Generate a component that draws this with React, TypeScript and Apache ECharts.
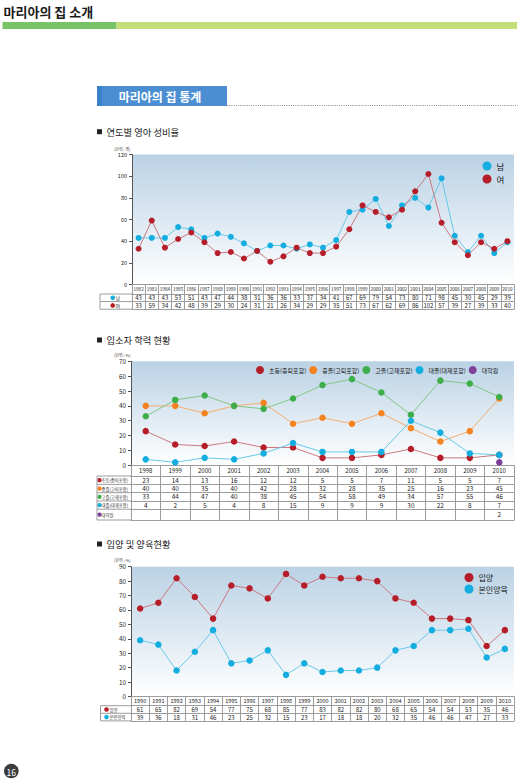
import React, { useEffect, useRef } from 'react';
import * as echarts from 'echarts';

// ---------- DATA ----------
const sexYears = ['1982','1983','1984','1985','1986','1987','1988','1989','1990','1991','1992','1993','1994','1995','1996','1997','1998','1999','2000','2001','2002','2003','2004','2005','2006','2007','2008','2009','2010'];
const boys = [43,43,43,53,51,43,47,44,38,31,36,36,33,37,34,41,67,69,79,54,73,80,71,98,45,30,45,29,39];
const girls = [33,59,34,42,48,39,29,30,24,31,21,26,34,29,29,35,51,73,67,62,69,86,102,57,39,27,39,33,40];

const eduYears = ['1998','1999','2000','2001','2002','2003','2004','2005','2006','2007','2008','2009','2010'];
const elementary = [23,14,13,16,12,12,5,5,7,11,5,5,7];
const middleSchool = [40,40,35,40,42,28,32,28,35,25,16,23,45];
const highSchool = [33,44,47,40,38,45,54,58,49,34,57,55,46];
const university = [4,2,5,4,8,15,9,9,9,30,22,8,7];
const graduate = [null,null,null,null,null,null,null,null,null,null,null,null,2];

const adoptYears = ['1990','1991','1992','1993','1994','1995','1996','1997','1998','1999','2000','2001','2002','2003','2004','2005','2006','2007','2008','2009','2010'];
const adopted = [61,65,82,69,54,77,75,68,85,77,83,82,82,80,68,65,54,54,53,35,46];
const selfRaised = [39,36,18,31,46,23,25,32,15,23,17,18,18,20,32,35,46,46,47,27,33];

const FONT = '"Noto Sans CJK KR", "Noto Sans", sans-serif';
const LINE = '#9c9c9c';
const RED = '#b51d28', RED_L = '#cc7880';
const BLUE = '#13aedf', BLUE_L = '#68c9e8';
const ORANGE = '#f5821f', ORANGE_L = '#f5ad6e';
const GREEN = '#3dae4a', GREEN_L = '#80c684';
const PURPLE = '#7d3f98';

type Row = { label: string; color: string; data: (number | null)[]; h: number };

function baseCat(grid: number, years: string[], offset: number) {
  return {
    type: 'category', gridIndex: grid, position: 'bottom', offset, data: years, boundaryGap: true,
    axisLine: { show: true, onZero: false, lineStyle: { color: LINE, width: 1 } },
    splitLine: { show: false },
    axisPointer: { show: false },
  } as any;
}

function buildTable(cfg: {
  grid: number; bottom: number; left: number; labelLeft: number; years: string[];
  mainH: number; yearFont: number; rows: Row[]; valFont: number; labelFont: number; dotX: number; textX: number; dotR: number;
}) {
  const { grid, bottom, left, labelLeft, years, mainH, yearFont, rows, valFont, labelFont, dotX, textX, dotR } = cfg;
  const axes: any[] = [];
  const graphics: any[] = [];
  axes.push({
    ...baseCat(grid, years, 0),
    axisTick: { show: true, length: mainH, interval: 0, alignWithLabel: false, lineStyle: { color: LINE } },
    axisLabel: { show: true, interval: 0, fontSize: yearFont, color: '#222', margin: Math.max(0, (mainH - yearFont) / 2 - 0.5), hideOverlap: false },
  });
  let off = mainH;
  const firstTop = bottom + mainH;
  rows.forEach((r) => {
    const data = r.data;
    axes.push({
      ...baseCat(grid, years, off),
      axisTick: { show: true, length: r.h, interval: 0, alignWithLabel: false, lineStyle: { color: LINE } },
      axisLabel: {
        show: true, interval: 0, fontSize: valFont, color: '#222', hideOverlap: false,
        margin: Math.max(0, (r.h - valFont) / 2),
        formatter: (_v: string, i: number) => (data[i] == null ? '' : String(data[i])),
      },
    });
    const y = bottom + off;
    graphics.push({ type: 'line', shape: { x1: labelLeft, y1: y, x2: left, y2: y }, style: { stroke: LINE, lineWidth: 1 } });
    graphics.push({ type: 'circle', shape: { cx: dotX, cy: y + r.h / 2, r: dotR }, style: { fill: r.color } });
    graphics.push({ type: 'text', x: textX, y: y + r.h / 2, style: { text: r.label, fontSize: labelFont, fontFamily: FONT, fill: '#333', verticalAlign: 'middle', align: 'left' } });
    off += r.h;
  });
  axes.push({
    ...baseCat(grid, years, off),
    axisTick: { show: false },
    axisLabel: { show: false },
  });
  graphics.push({ type: 'line', shape: { x1: labelLeft, y1: bottom + off, x2: left, y2: bottom + off }, style: { stroke: LINE, lineWidth: 1 } });
  graphics.push({ type: 'line', shape: { x1: labelLeft, y1: firstTop, x2: labelLeft, y2: bottom + off }, style: { stroke: LINE, lineWidth: 1 } });
  return { axes, graphics };
}

const bg = () => new echarts.graphic.LinearGradient(0, 0, 0, 1, [
  { offset: 0, color: '#bad2e5' },
  { offset: 1, color: '#ffffff' },
]);

function valAxis(grid: number, max: number, interval: number, fontSize: number) {
  return {
    type: 'value', gridIndex: grid, min: 0, max, interval,
    axisLine: { show: true, lineStyle: { color: '#555', width: 1 } },
    axisTick: { show: true, length: 3, lineStyle: { color: '#555' } },
    axisLabel: { fontSize, color: '#222', margin: 5 },
    splitLine: { show: false },
  };
}

function lineSeries(name: string, xi: number, yi: number, data: (number | null)[], c: string, cl: string, size: number) {
  return {
    type: 'line', name, xAxisIndex: xi, yAxisIndex: yi, data,
    symbol: 'circle', symbolSize: size, showSymbol: true, connectNulls: false,
    lineStyle: { color: cl, width: 1 }, itemStyle: { color: c }, emphasis: { disabled: true },
  };
}

function heading(y: number, text: string) {
  return [
    { type: 'rect', shape: { x: 97, y: y - 2.5, width: 5, height: 5 }, style: { fill: '#222' } },
    { type: 'text', x: 106.5, y, style: { text, fontSize: 9.3, fontFamily: FONT, fill: '#222', verticalAlign: 'middle' } },
  ];
}

export default function App() {
  const ref = useRef<HTMLDivElement>(null);
  useEffect(() => {
    if (!ref.current) return;
    const chart = echarts.init(ref.current, undefined, { renderer: 'svg' });

    const g1Bottom = 284.5, g2Bottom = 465.3, g3Bottom = 696.5;
    const t1 = buildTable({
      grid: 0, bottom: g1Bottom, left: 132, labelLeft: 100, years: sexYears, mainH: 9.5, yearFont: 4.6,
      rows: [
        { label: '남', color: BLUE, data: boys, h: 7.6 },
        { label: '여', color: RED, data: girls, h: 7.6 },
      ],
      valFont: 6, labelFont: 5, dotX: 112.7, textX: 115.5, dotR: 2.3,
    });
    const t2 = buildTable({
      grid: 1, bottom: g2Bottom, left: 131, labelLeft: 97, years: eduYears, mainH: 10.7, yearFont: 6,
      rows: [
        { label: '초등(중퇴포함)', color: RED, data: elementary, h: 8.4 },
        { label: '중졸(고퇴포함)', color: ORANGE, data: middleSchool, h: 8.3 },
        { label: '고졸(고재포함)', color: GREEN, data: highSchool, h: 8.3 },
        { label: '대졸(대재포함)', color: BLUE, data: university, h: 8.2 },
        { label: '대학원', color: PURPLE, data: graduate, h: 10.8 },
      ],
      valFont: 6.4, labelFont: 4.3, dotX: 99.5, textX: 101.5, dotR: 2.2,
    });
    const t3 = buildTable({
      grid: 2, bottom: g3Bottom, left: 131, labelLeft: 100.5, years: adoptYears, mainH: 9.2, yearFont: 5.5,
      rows: [
        { label: '입양', color: RED, data: adopted, h: 7.6 },
        { label: '본인양육', color: BLUE, data: selfRaised, h: 7.6 },
      ],
      valFont: 6, labelFont: 4.4, dotX: 106.5, textX: 109.5, dotR: 2.3,
    });
    const x1 = 0, x2 = t1.axes.length, x3 = t1.axes.length + t2.axes.length;

    const option: any = {
      animation: false,
      textStyle: { fontFamily: FONT },
      grid: [
        { left: 132, top: 154.5, width: 382, height: g1Bottom - 154.5, show: true, backgroundColor: bg(), borderWidth: 0 },
        { left: 131, top: 361.3, width: 383, height: g2Bottom - 361.3, show: true, backgroundColor: bg(), borderWidth: 0 },
        { left: 131, top: 566.7, width: 383, height: g3Bottom - 566.7, show: true, backgroundColor: bg(), borderWidth: 0 },
      ],
      xAxis: [...t1.axes, ...t2.axes, ...t3.axes],
      yAxis: [valAxis(0, 120, 20, 5.5), valAxis(1, 70, 10, 6.3), valAxis(2, 90, 10, 6.3)],
      legend: [
        {
          data: ['남', '여'], orient: 'vertical', left: 482.5, top: 161.5, itemWidth: 9, itemHeight: 9, itemGap: 4,
          icon: 'circle', padding: 0, selectedMode: false, textStyle: { fontSize: 8.5, color: '#222', fontFamily: FONT },
        },
        {
          data: ['초등(중퇴포함)', '중졸(고퇴포함)', '고졸(고재포함)', '대졸(대재포함)', '대학원'], orient: 'horizontal',
          left: 256, top: 366, itemWidth: 8, itemHeight: 8, itemGap: 3, icon: 'circle', padding: 0, selectedMode: false,
          textStyle: { fontSize: 6, color: '#222', fontFamily: FONT },
        },
        {
          data: ['입양', '본인양육'], orient: 'vertical', left: 464.5, top: 573, itemWidth: 9, itemHeight: 9, itemGap: 2.5,
          icon: 'circle', padding: 0, selectedMode: false, textStyle: { fontSize: 8, color: '#222', fontFamily: FONT },
        },
      ],
      series: [
        lineSeries('남', x1, 0, boys, BLUE, BLUE_L, 6),
        lineSeries('여', x1, 0, girls, RED, RED_L, 6),
        lineSeries('초등(중퇴포함)', x2, 1, elementary, RED, RED_L, 6.5),
        lineSeries('중졸(고퇴포함)', x2, 1, middleSchool, ORANGE, ORANGE_L, 6.5),
        lineSeries('고졸(고재포함)', x2, 1, highSchool, GREEN, GREEN_L, 6.5),
        lineSeries('대졸(대재포함)', x2, 1, university, BLUE, BLUE_L, 6.5),
        lineSeries('대학원', x2, 1, graduate, PURPLE, PURPLE, 6.5),
        lineSeries('입양', x3, 2, adopted, RED, RED_L, 6.5),
        lineSeries('본인양육', x3, 2, selfRaised, BLUE, BLUE_L, 6.5),
      ],
      graphic: [
        { type: 'text', x: 3.5, y: 11, style: { text: '마리아의 집 소개', fontSize: 13, fontWeight: 'bold', fontFamily: FONT, fill: '#1a1a1a', verticalAlign: 'middle' } },
        { type: 'rect', shape: { x: 2.5, y: 22, width: 114, height: 7 }, style: { fill: '#77c367' } },
        { type: 'rect', shape: { x: 116.5, y: 22, width: 400.5, height: 7 }, style: { fill: '#c3dd79' } },
        { type: 'rect', shape: { x: 97, y: 86, width: 130, height: 20 }, style: { fill: '#4b8fd2' } },
        { type: 'rect', shape: { x: 97, y: 86, width: 5, height: 20 }, style: { fill: '#3a82c8' } },
        { type: 'text', x: 160, y: 96.5, style: { text: '마리아의 집 통계', fontSize: 12, fontWeight: 'bold', fontFamily: FONT, fill: '#ffffff', align: 'center', verticalAlign: 'middle' } },
        { type: 'line', shape: { x1: 227, y1: 105.5, x2: 518, y2: 105.5 }, style: { stroke: '#8a8a8a', lineWidth: 1, lineDash: [1, 1.2] } },
        ...heading(131.7, '연도별 영아 성비율'),
        ...heading(340, '입소자 학력 현황'),
        ...heading(544, '입양 및 양육현황'),
        { type: 'text', x: 114, y: 148.6, style: { text: '(단위 : 명)', fontSize: 4, fontFamily: FONT, fill: '#333', verticalAlign: 'middle' } },
        { type: 'text', x: 114, y: 354.5, style: { text: '(단위 : %)', fontSize: 4, fontFamily: FONT, fill: '#333', verticalAlign: 'middle' } },
        { type: 'text', x: 114, y: 559.5, style: { text: '(단위 : %)', fontSize: 4, fontFamily: FONT, fill: '#333', verticalAlign: 'middle' } },
        ...t1.graphics, ...t2.graphics, ...t3.graphics,
        { type: 'circle', shape: { cx: 11.3, cy: 771, r: 7.3 }, style: { fill: '#3c3c3c' } },
        { type: 'text', x: 11.3, y: 771.5, style: { text: '16', fontSize: 8.5, fontFamily: FONT, fill: '#ffffff', align: 'center', verticalAlign: 'middle' } },
      ],
    };
    chart.setOption(option);
    return () => chart.dispose();
  }, []);
  return <div ref={ref} style={{ position: 'absolute', left: 0, top: 0, width: 521, height: 779, background: '#fff' }} />;
}
